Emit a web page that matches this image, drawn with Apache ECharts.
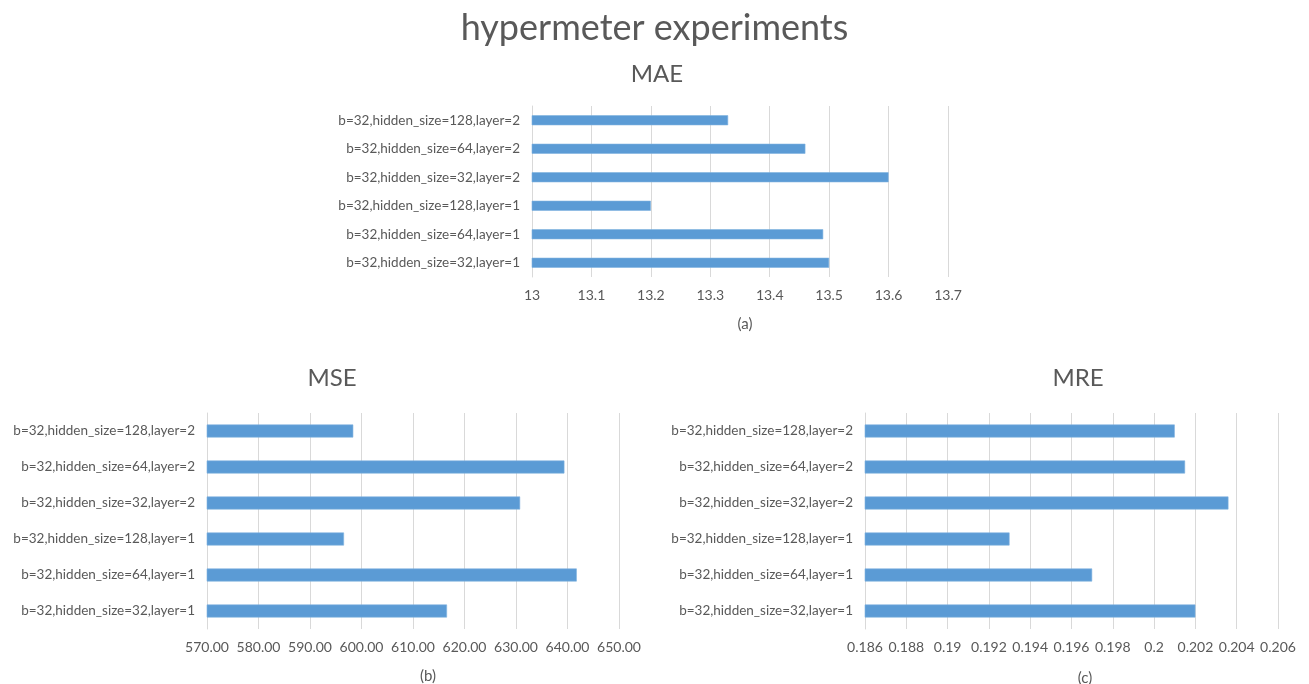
<!DOCTYPE html>
<html><head><meta charset="utf-8">
<script src="https://cdn.jsdelivr.net/npm/echarts@6/dist/echarts.min.js"></script>
<style>html,body{margin:0;padding:0;background:#fff}#c{width:1309px;height:684px}</style>
</head><body><div id="c"></div>
<script>
// categories listed bottom-to-top (ECharts category axis order)
const categories = [
  'b=32,hidden_size=32,layer=1',
  'b=32,hidden_size=64,layer=1',
  'b=32,hidden_size=128,layer=1',
  'b=32,hidden_size=32,layer=2',
  'b=32,hidden_size=64,layer=2',
  'b=32,hidden_size=128,layer=2'
];
const maeValues = [13.5, 13.49, 13.2, 13.6, 13.46, 13.33];
const mseValues = [616.6, 641.8, 596.6, 630.8, 639.4, 598.4];
const mreValues = [0.202, 0.197, 0.193, 0.2036, 0.2015, 0.201];
const mainTitle = 'hypermeter experiments';
const chartTitles = ['MAE', 'MSE', 'MRE'];
const captions = ['(a)', '(b)', '(c)'];

const FONT = 'Lato';
const TXT = '#595959';
const GRIDC = '#d9d9d9';
const BAR = '#5b9bd5';

const chart = echarts.init(document.getElementById('c'));
function xAx(gi, min, max, interval, fmt) {
  return {
    type: 'value', gridIndex: gi, min: min, max: max, interval: interval,
    axisLine: {show: false}, axisTick: {show: false},
    splitLine: {show: true, lineStyle: {color: GRIDC, width: 1}},
    axisLabel: {color: TXT, fontFamily: FONT, fontSize: 14, margin: 11, formatter: fmt}
  };
}
function yAx(gi) {
  return {
    type: 'category', gridIndex: gi, data: categories,
    axisLine: {show: true, lineStyle: {color: GRIDC}}, axisTick: {show: false},
    axisLabel: {color: TXT, fontFamily: FONT, fontSize: 13.5, margin: 12}
  };
}
function ser(i, data, bw) {
  return {
    type: 'bar', xAxisIndex: i, yAxisIndex: i, data: data, barWidth: bw,
    itemStyle: {color: BAR, borderColor: '#7fb1df', borderWidth: 0.6},
    silent: true
  };
}
const ts = (size) => ({fontFamily: FONT, fontSize: size, fontWeight: 'normal', color: TXT});
chart.setOption({
  animation: false,
  title: [
    {text: mainTitle, left: 'center', top: 5, textStyle: ts(36)},
    {text: chartTitles[0], left: 652, textAlign: 'center', top: 57, textStyle: ts(24)},
    {text: chartTitles[1], left: 327, textAlign: 'center', top: 361, textStyle: ts(24)},
    {text: chartTitles[2], left: 1073, textAlign: 'center', top: 361, textStyle: ts(24)},
    {text: captions[0], left: 740, textAlign: 'center', top: 312, textStyle: ts(15)},
    {text: captions[1], left: 423, textAlign: 'center', top: 664, textStyle: ts(15)},
    {text: captions[2], left: 1080, textAlign: 'center', top: 666, textStyle: ts(15)}
  ],
  grid: [
    {left: 532, top: 106, width: 416, height: 171},
    {left: 207, top: 413, width: 412, height: 216},
    {left: 865, top: 413, width: 413, height: 216}
  ],
  xAxis: [
    xAx(0, 13, 13.7, 0.1, v => String(parseFloat(v.toFixed(1)))),
    xAx(1, 570, 650, 10, v => v.toFixed(2)),
    xAx(2, 0.186, 0.206, 0.002, v => String(parseFloat(v.toFixed(3))))
  ],
  yAxis: [yAx(0), yAx(1), yAx(2)],
  series: [ser(0, maeValues, 10), ser(1, mseValues, 13), ser(2, mreValues, 13)]
});
</script></body></html>
